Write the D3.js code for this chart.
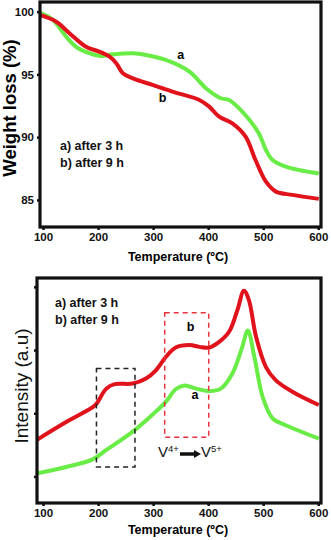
<!DOCTYPE html>
<html>
<head>
<meta charset="utf-8">
<script src="https://cdn.jsdelivr.net/npm/d3@7"></script>
<style>
  body { margin: 0; background: #fff; }
  text { font-family: "Liberation Sans", Arial, sans-serif; }
</style>
</head>
<body>
<div id="chart"></div>
<script>
// TGA (weight loss) data
var tgaTempA = [94, 118, 142, 160, 184, 203, 227, 263, 287, 323, 366, 396, 423, 438, 462, 492, 505, 517, 541, 601];
var tgaWtA   = [99.92, 99.34, 98.0, 97.2, 96.69, 96.47, 96.6, 96.69, 96.55, 96.15, 95.22, 93.9, 93.1, 92.96, 92.03, 90.31, 88.98, 88.18, 87.65, 87.1];
var tgaTempB = [94, 124, 148, 178, 203, 221, 233, 245, 263, 299, 335, 384, 402, 420, 444, 468, 486, 505, 523, 553, 601];
var tgaWtB   = [99.74, 99.2, 98.28, 97.2, 96.8, 96.41, 95.89, 95.09, 94.69, 94.16, 93.63, 92.96, 92.43, 91.63, 91.1, 90.04, 88.18, 86.45, 85.66, 85.4, 85.08];
var tgaYTicks = [85, 90, 95, 100];

// DTA (intensity) data
var dtaTempA = [89, 142, 190, 215, 263, 299, 323, 341, 357, 378, 402, 423, 444, 462, 472, 484, 499, 517, 541, 601];
var dtaIntA  = [1.05, 1.15, 1.27, 1.42, 1.71, 1.98, 2.18, 2.38, 2.44, 2.39, 2.35, 2.39, 2.63, 3.05, 3.31, 2.89, 2.26, 1.92, 1.81, 1.6];
var dtaTempB = [89, 142, 191, 197, 215, 230, 263, 287, 305, 323, 341, 366, 384, 402, 420, 438, 453, 465, 474, 487, 505, 523, 553, 601];
var dtaIntB  = [1.58, 1.86, 2.1, 2.15, 2.39, 2.46, 2.47, 2.55, 2.68, 2.89, 3.04, 3.08, 3.05, 3.04, 3.13, 3.29, 3.63, 3.94, 3.79, 3.21, 2.73, 2.52, 2.34, 2.13];
var dtaYTicks = [1, 2, 3, 4];

var xTicks = [100, 200, 300, 400, 500, 600];
var legendLines = ['a) after 3 h', 'b) after 9 h'];
// dashed boxes [t0, t1, v0, v1]
var boxes = [
  { t0: 197, t1: 267, v0: 1.15, v1: 2.71, color: '#222' },
  { t0: 321, t1: 401, v0: 1.62, v1: 3.59, color: '#e8323c' }
];

var green = '#6aec46', red = '#e0121c';

var svg = d3.select('#chart').append('svg')
  .attr('width', 331)
  .attr('height', 540);

function drawFrame(g, x, y, yTicks, showYLabels) {
  var xAxis = d3.axisBottom(x).tickValues(xTicks).tickSize(3).tickPadding(3);
  var yAxis = d3.axisLeft(y).tickValues(yTicks).tickSize(3).tickPadding(3);
  if (!showYLabels) yAxis.tickFormat('');

  var gx = g.append('g')
    .attr('transform', 'translate(0,' + y.range()[0] + ')')
    .call(xAxis);
  var gy = g.append('g')
    .attr('transform', 'translate(' + x.range()[0] + ',0)')
    .call(yAxis);
  [gx, gy].forEach(function(a) {
    a.select('.domain').remove();
    a.selectAll('line').attr('stroke', '#111').attr('stroke-width', 2.5);
    a.selectAll('text')
      .attr('fill', '#111')
      .style('font-size', '11.5px')
      .style('font-weight', 'bold');
  });

  g.append('rect')
    .attr('x', x.range()[0])
    .attr('y', y.range()[1])
    .attr('width', x.range()[1] - x.range()[0])
    .attr('height', y.range()[0] - y.range()[1])
    .attr('fill', 'none')
    .attr('stroke', '#111')
    .attr('stroke-width', 3.2);
}

function drawLine(g, x, y, temps, vals, color) {
  var pts = temps.map(function(t, i) { return [t, vals[i]]; });
  var line = d3.line()
    .x(function(d) { return x(d[0]); })
    .y(function(d) { return y(d[1]); })
    .curve(d3.curveCatmullRom.alpha(0.5));
  g.append('path')
    .datum(pts)
    .attr('d', line)
    .attr('fill', 'none')
    .attr('stroke', color)
    .attr('stroke-width', 4)
    .attr('stroke-linejoin', 'round');
}

function clip(g, id, x, y) {
  svg.append('clipPath').attr('id', id).append('rect')
    .attr('x', x.range()[0])
    .attr('y', y.range()[1])
    .attr('width', x.range()[1] - x.range()[0])
    .attr('height', y.range()[0] - y.range()[1]);
  return g.append('g').attr('clip-path', 'url(#' + id + ')');
}

// ---- top: weight loss ----
var x1 = d3.scaleLinear().domain([94.5, 605]).range([40, 321]);
var y1 = d3.scaleLinear().domain([82.84, 100.77]).range([227, 2]);
var tg = svg.append('g');
var tgPlot = clip(tg, 'c1', x1, y1);
drawLine(tgPlot, x1, y1, tgaTempA, tgaWtA, green);
drawLine(tgPlot, x1, y1, tgaTempB, tgaWtB, red);
drawFrame(tg, x1, y1, tgaYTicks, true);

tg.append('text').attr('x', x1(350)).attr('y', y1(96.2)).text('a')
  .style('font-size', '12.5px').style('font-weight', 'bold').attr('text-anchor', 'middle');
tg.append('text').attr('x', x1(317)).attr('y', y1(92.8)).text('b')
  .style('font-size', '12.5px').style('font-weight', 'bold').attr('text-anchor', 'middle');
tg.selectAll('.leg').data(legendLines).enter().append('text')
  .attr('x', 60)
  .attr('y', function(d, i) { return 150 + i * 17; })
  .text(function(d) { return d; })
  .style('font-size', '12.5px').style('font-weight', 'bold').attr('fill', '#111');

tg.append('text')
  .attr('x', 178).attr('y', 261)
  .attr('text-anchor', 'middle')
  .style('font-size', '12.5px').style('font-weight', 'bold')
  .text('Temperature (ºC)');
tg.append('text')
  .attr('transform', 'translate(16,108) rotate(-90)')
  .attr('text-anchor', 'middle')
  .style('font-size', '18.5px').style('font-weight', 'bold')
  .text('Weight loss (%)');

// ---- bottom: intensity ----
var x2 = d3.scaleLinear().domain([89, 605]).range([37, 321]);
var y2 = d3.scaleLinear().domain([0.58, 4.14]).range([503, 278]);
var dg = svg.append('g');
var dgPlot = clip(dg, 'c2', x2, y2);
drawLine(dgPlot, x2, y2, dtaTempA, dtaIntA, green);
drawLine(dgPlot, x2, y2, dtaTempB, dtaIntB, red);

dg.selectAll('.box').data(boxes).enter().append('rect')
  .attr('x', function(d) { return x2(d.t0); })
  .attr('y', function(d) { return y2(d.v1); })
  .attr('width', function(d) { return x2(d.t1) - x2(d.t0); })
  .attr('height', function(d) { return y2(d.v0) - y2(d.v1); })
  .attr('fill', 'none')
  .attr('stroke', function(d) { return d.color; })
  .attr('stroke-width', 1.5)
  .attr('stroke-dasharray', '5,4');

drawFrame(dg, x2, y2, dtaYTicks, false);

dg.append('text').attr('x', x2(368)).attr('y', y2(3.3)).text('b')
  .style('font-size', '12.5px').style('font-weight', 'bold').attr('text-anchor', 'middle');
dg.append('text').attr('x', x2(376)).attr('y', y2(2.22)).text('a')
  .style('font-size', '12.5px').style('font-weight', 'bold').attr('text-anchor', 'middle');
dg.selectAll('.leg').data(legendLines).enter().append('text')
  .attr('x', 55)
  .attr('y', function(d, i) { return 307 + i * 17; })
  .text(function(d) { return d; })
  .style('font-size', '12.5px').style('font-weight', 'bold').attr('fill', '#111');

// V4+ -> V5+ annotation
var ann = dg.append('g').attr('transform', 'translate(158,457)');
var t1 = ann.append('text').style('font-size', '15px').attr('fill', '#111');
t1.append('tspan').text('V');
t1.append('tspan').attr('dy', -5).style('font-size', '9.5px').text('4+');
ann.append('line')
  .attr('x1', 22).attr('x2', 37).attr('y1', -3).attr('y2', -3)
  .attr('stroke', '#111').attr('stroke-width', 3.5);
ann.append('path')
  .attr('d', 'M36,-7 L43,-3 L36,1 Z')
  .attr('fill', '#111');
var t2 = ann.append('text').attr('x', 43).style('font-size', '15px').attr('fill', '#111');
t2.append('tspan').text('V');
t2.append('tspan').attr('dy', -5).style('font-size', '9.5px').text('5+');

dg.append('text')
  .attr('x', 178).attr('y', 534)
  .attr('text-anchor', 'middle')
  .style('font-size', '12.5px').style('font-weight', 'bold')
  .text('Temperature (ºC)');
dg.append('text')
  .attr('transform', 'translate(28,386) rotate(-90)')
  .attr('text-anchor', 'middle')
  .style('font-size', '19px')
  .attr('fill', '#111')
  .text('Intensity  (a.u)');
</script>
</body>
</html>
